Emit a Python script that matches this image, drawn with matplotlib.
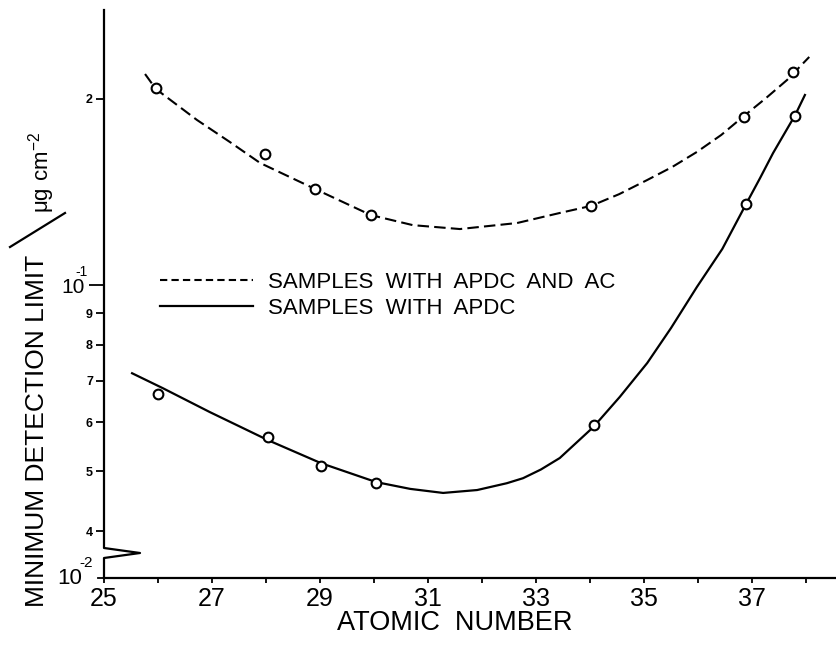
import matplotlib
matplotlib.use("Agg")
import matplotlib.pyplot as plt
from matplotlib.lines import Line2D

plt.rcParams['font.family'] = ['Liberation Sans', 'DejaVu Sans']
NARROW = ['Liberation Sans Narrow', 'Liberation Sans', 'DejaVu Sans']

# measured points (open circles)
z_apdc_ac = [25.96, 27.98, 28.91, 29.94, 34.02, 36.85, 37.76]
mdl_apdc_ac = [0.208, 0.163, 0.143, 0.130, 0.134, 0.187, 0.221]
z_apdc = [26.00, 28.04, 29.02, 30.04, 34.07, 36.89, 37.80]
mdl_apdc = [0.0667, 0.0568, 0.0509, 0.0478, 0.0594, 0.135, 0.188]

# hand drawn curves
curve_ac_z = [25.76, 25.96, 26.72, 27.33, 27.89, 28.91, 29.94, 30.72, 31.59,
              32.65, 33.44, 34.02, 34.54, 35.06, 35.52, 35.98, 36.43, 36.85,
              37.26, 37.65, 38.06]
curve_ac_mdl = [0.2195, 0.2076, 0.1850, 0.1704, 0.1576, 0.1430, 0.1298, 0.1250,
                0.1232, 0.1260, 0.1308, 0.1343, 0.1403, 0.1479, 0.1552, 0.1642,
                0.1749, 0.1877, 0.2007, 0.2147, 0.2339]
curve_z = [25.52, 26.09, 26.96, 28.04, 29.02, 30.04, 30.67, 31.28, 31.91, 32.46,
           32.76, 33.09, 33.44, 34.06, 34.55, 35.06, 35.50, 35.98, 36.45, 36.89,
           37.15, 37.39, 37.80, 37.98]
curve_mdl = [0.0720, 0.0681, 0.0623, 0.0561, 0.0515, 0.0480, 0.0468, 0.0461, 0.0466,
             0.0478, 0.0487, 0.0503, 0.0525, 0.0589, 0.0659, 0.0748, 0.0852, 0.0993,
             0.1144, 0.1352, 0.1490, 0.1635, 0.1884, 0.2030]

labels = ['SAMPLES  WITH  APDC  AND  AC', 'SAMPLES  WITH  APDC']
x_major = [25, 27, 29, 31, 33, 35, 37]
x_minor = [26, 28, 30, 32, 34, 36, 38]
y_minor = [0.04, 0.05, 0.06, 0.07, 0.08, 0.09, 0.2]
y_minor_labels = ['4', '5', '6', '7', '8', '9', '2']

W, H = 836, 647
fig = plt.figure(figsize=(W / 100, H / 100), dpi=100)
ax = fig.add_axes([104 / W, 1 - 578 / H, (W - 104) / W, (578 - 10) / H])

ax.plot(curve_ac_z, curve_ac_mdl, color='black', lw=1.5, dashes=(5.5, 2.5))
ax.plot(curve_z, curve_mdl, color='black', lw=1.6, solid_joinstyle='round')
for zz, mm in [(z_apdc_ac, mdl_apdc_ac), (z_apdc, mdl_apdc)]:
    ax.plot(zz, mm, 'o', ms=7, mfc='white', mec='black', mew=1.5, zorder=3)

ax.set_yscale('log')
ax.set_xlim(25, 25 + (W - 104) / 54)
ax.set_ylim(0.03358, 0.2786)

ax.set_xticks(x_major, [str(v) for v in x_major])
ax.set_xticks(x_minor, minor=True)
ax.tick_params(axis='x', which='both', direction='out', length=3.5, width=1.3, pad=3)
for t in ax.get_xticklabels():
    t.set_family(NARROW)
    t.set_fontsize(18)

ax.set_yticks([0.1], ['10'])
ax.set_yticks(y_minor, y_minor_labels, minor=True)
ax.tick_params(axis='y', which='major', length=11, width=1.3, pad=3, labelsize=15)
ax.tick_params(axis='y', which='minor', length=6, width=1.3, pad=2, labelsize=9)
for t in ax.get_yticklabels(minor=True):
    t.set_fontweight('bold')
# exponent of 10^-1 sits over the "0"
fig.text(88 / W, 1 - 272 / H, '-1', ha='right', va='center', fontsize=10)

for s in ['top', 'right', 'left']:
    ax.spines[s].set_visible(False)
ax.spines['bottom'].set_linewidth(1.6)

# broken y axis drawn by hand
def fy(py):
    return (578 - py) / 568
dx = 36 / 732
ax.add_line(Line2D([0, 0, dx, 0, 0], [1, fy(548), fy(553), fy(558), 0],
                   transform=ax.transAxes, color='black', lw=1.6, clip_on=False))
ax.add_line(Line2D([-6 / 732, 0], [0, 0], transform=ax.transAxes,
                   color='black', lw=1.3, clip_on=False))
fig.text(82 / W, 1 - 579 / H, '10', ha='right', va='center', fontsize=16)
fig.text(93 / W, 1 - 563 / H, '-2', ha='right', va='center', fontsize=11)

fig.text(455 / W, 1 - 623 / H, 'ATOMIC  NUMBER', ha='center', va='center',
         fontsize=19.5)

fig.text(37 / W, 1 - 431 / H, 'MINIMUM DETECTION LIMIT', rotation=90,
         ha='center', va='center', fontsize=19)
fig.add_artist(Line2D([10 / W, 65 / W], [1 - 247 / H, 1 - 213 / H],
                      color='black', lw=1.6))
fig.text(42 / W, 1 - 172 / H, r'$\mathregular{\mu g\ cm^{-2}}$', rotation=90,
         ha='center', va='center', fontsize=16)

handles = [Line2D([], [], color='black', lw=1.5, dashes=(3.5, 2)),
           Line2D([], [], color='black', lw=1.6)]
ax.legend(handles, labels, loc='upper left', bbox_to_anchor=(0.0765, 0.539),
          frameon=False, fontsize=16, handlelength=4.2, handletextpad=0.65,
          borderpad=0, borderaxespad=0, labelspacing=0.22)

fig.savefig('out.png', dpi=100)
